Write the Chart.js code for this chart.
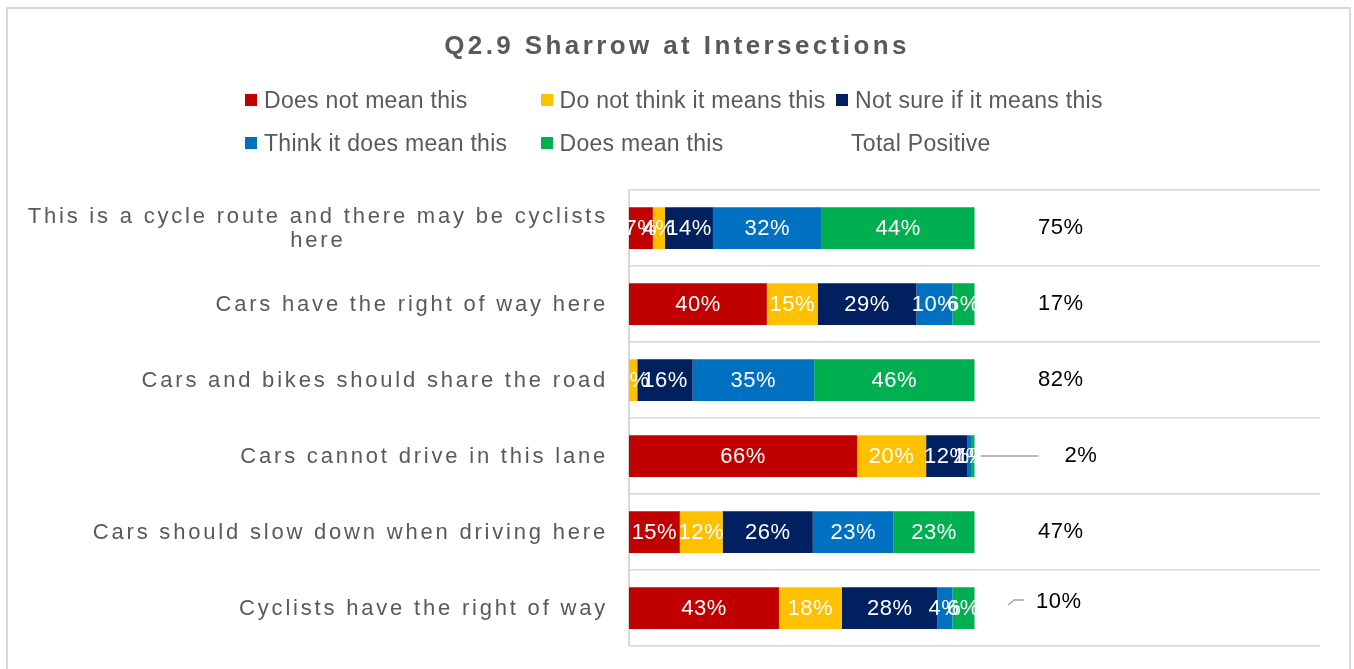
<!DOCTYPE html>
<html>
<head>
<meta charset="utf-8">
<script src="https://cdn.jsdelivr.net/npm/chart.js@4.4.0/dist/chart.umd.min.js"></script>
<style>
  body { margin: 0; background: #fff; }
  #wrap { position: relative; width: 1354px; height: 669px; overflow: hidden; }
  #frame { position: absolute; left: 6px; top: 7px; width: 1341px; height: 700px; border: 2px solid #d9d9d9; }
  #chart { position: absolute; left: 0; top: 0; }
  .legend-item {
    position: absolute; display: flex; align-items: center; height: 24px;
    font-family: "Liberation Sans", Arial, sans-serif; font-size: 23px;
    color: #595959; letter-spacing: 0.3px; white-space: nowrap;
  }
  .legend-item .box { width: 12px; height: 12px; margin-right: 7px; }
</style>
</head>
<body>
<div id="wrap">
  <div id="frame"></div>
  <canvas id="chart" width="1354" height="669"></canvas>
  <div id="legend"></div>
</div>
<script>
const categories = [
  ["This is a cycle route and there may be cyclists", "here"],
  "Cars have the right of way here",
  "Cars and bikes should share the road",
  "Cars cannot drive in this lane",
  "Cars should slow down when driving here",
  "Cyclists have the right of way"
];
const seriesNames = [
  "Does not mean this",
  "Do not think it means this",
  "Not sure if it means this",
  "Think it does mean this",
  "Does mean this",
  "Total Positive"
];
const doesNotMean = [6.9, 39.9, 0, 66.0, 14.7, 43.4];
const doNotThink = [3.5, 14.7, 2.4, 20.0, 12.4, 18.2];
const notSure = [13.9, 28.6, 16.0, 12.0, 26.1, 27.7];
const thinkItDoes = [31.5, 10.4, 35.2, 1.0, 23.4, 4.3];
const doesMean = [44.2, 6.4, 46.4, 1.0, 23.4, 6.4];
const totalPositive = [75, 17, 82, 2, 47, 10];

const colors = ["#C00000", "#FFC000", "#002060", "#0070C0", "#00B050", "rgba(0,0,0,0)"];
const FONT = '"Liberation Sans", Arial, sans-serif';

// html legend, laid out in fixed columns like the office chart
const legendEl = document.getElementById("legend");
seriesNames.forEach((name, i) => {
  const item = document.createElement("div");
  item.className = "legend-item";
  item.style.left = (245 + (i % 3) * 295.5) + "px";
  item.style.top = (88 + Math.floor(i / 3) * 43) + "px";
  const box = document.createElement("span");
  box.className = "box";
  box.style.background = colors[i];
  if (i === 5) box.style.width = "8px";
  item.appendChild(box);
  item.appendChild(document.createTextNode(name));
  legendEl.appendChild(item);
});

// title spacing on, off again before the bars
const spacing = {
  id: "spacing",
  beforeDraw(chart) { chart.ctx.letterSpacing = "3.4px"; },
  beforeDatasetsDraw(chart) { chart.ctx.letterSpacing = "0px"; }
};

const categoryLabels = {
  id: "categoryLabels",
  afterDraw(chart) {
    const ctx = chart.ctx;
    const yScale = chart.scales.y;
    const right = chart.chartArea.left - 21;
    ctx.save();
    ctx.font = "22px " + FONT;
    ctx.letterSpacing = "2.8px";
    ctx.fillStyle = "#595959";
    ctx.textAlign = "center";
    ctx.textBaseline = "middle";
    chart.data.labels.forEach((label, i) => {
      const lines = Array.isArray(label) ? label : [label];
      const widths = lines.map(l => ctx.measureText(l).width);
      const maxW = Math.max(...widths);
      const cx = right - maxW / 2;
      const y = yScale.getPixelForValue(i) + 1;
      lines.forEach((line, k) => {
        ctx.fillText(line, cx, y + (k - (lines.length - 1) / 2) * 24);
      });
    });
    ctx.restore();
  }
};

const barLabels = {
  id: "barLabels",
  afterDatasetsDraw(chart, args, opts) {
    const ctx = chart.ctx;
    const xScale = chart.scales.x;
    ctx.save();
    ctx.font = "22px " + FONT;
    ctx.letterSpacing = "0.5px";
    ctx.textAlign = "center";
    ctx.textBaseline = "middle";
    chart.data.datasets.forEach((ds, di) => {
      const meta = chart.getDatasetMeta(di);
      meta.data.forEach((bar, i) => {
        const v = ds.data[i];
        if (di < 5) {
          if (!v) return;
          ctx.fillStyle = "#fff";
          ctx.fillText(Math.round(v) + "%", (bar.x + bar.base) / 2, bar.y + 1);
        } else {
          const off = opts.offsets[i] || { dx: 0, dy: 0 };
          const lx = xScale.getPixelForValue(opts.anchor) + off.dx;
          const ly = bar.y + off.dy;
          ctx.fillStyle = "#000";
          ctx.fillText(v + "%", lx, ly);
          const w = ctx.measureText(v + "%").width;
          ctx.strokeStyle = "#a6a6a6";
          ctx.lineWidth = 1.5;
          if (off.leader === "long") {
            ctx.beginPath();
            ctx.moveTo(bar.base + 6, bar.y);
            ctx.lineTo(lx - w / 2 - 26, bar.y);
            ctx.stroke();
          } else if (off.leader === "short") {
            const ex = lx - w / 2 - 12;
            ctx.beginPath();
            ctx.moveTo(ex - 16, ly + 3);
            ctx.lineTo(ex - 10, ly - 2);
            ctx.lineTo(ex, ly - 2);
            ctx.stroke();
          }
        }
      });
    });
    ctx.restore();
  }
};

const series = [doesNotMean, doNotThink, notSure, thinkItDoes, doesMean, totalPositive];

new Chart(document.getElementById("chart"), {
  type: "bar",
  data: {
    labels: categories,
    datasets: series.map((d, i) => ({
      label: seriesNames[i],
      data: d,
      backgroundColor: colors[i],
      borderWidth: 0,
      barPercentage: 0.55,
      categoryPercentage: 1
    }))
  },
  options: {
    indexAxis: "y",
    responsive: false,
    animation: false,
    // equal side padding keeps the title centred on the page
    layout: { padding: { left: 34, right: 34, top: 0, bottom: 23 } },
    scales: {
      x: { stacked: true, min: 0, max: 200, display: false },
      y: {
        stacked: true,
        afterFit(scale) { scale.width = 595; },
        ticks: { display: false },
        grid: { color: "#d9d9d9", lineWidth: 1.5, drawTicks: false, offset: true },
        border: { display: true, color: "#d9d9d9", width: 2 }
      }
    },
    plugins: {
      legend: { display: false },
      tooltip: { enabled: false },
      title: {
        display: true,
        text: "Q2.9 Sharrow at Intersections",
        color: "#595959",
        font: { family: FONT, size: 26, weight: "bold" },
        padding: { top: 31, bottom: 128 }
      },
      barLabels: {
        anchor: 125,
        offsets: [null, null, null, { dx: 20, dy: 0, leader: "long" }, null, { dx: -2, dy: -6, leader: "short" }]
      }
    }
  },
  plugins: [spacing, categoryLabels, barLabels]
});
</script>
</body>
</html>
